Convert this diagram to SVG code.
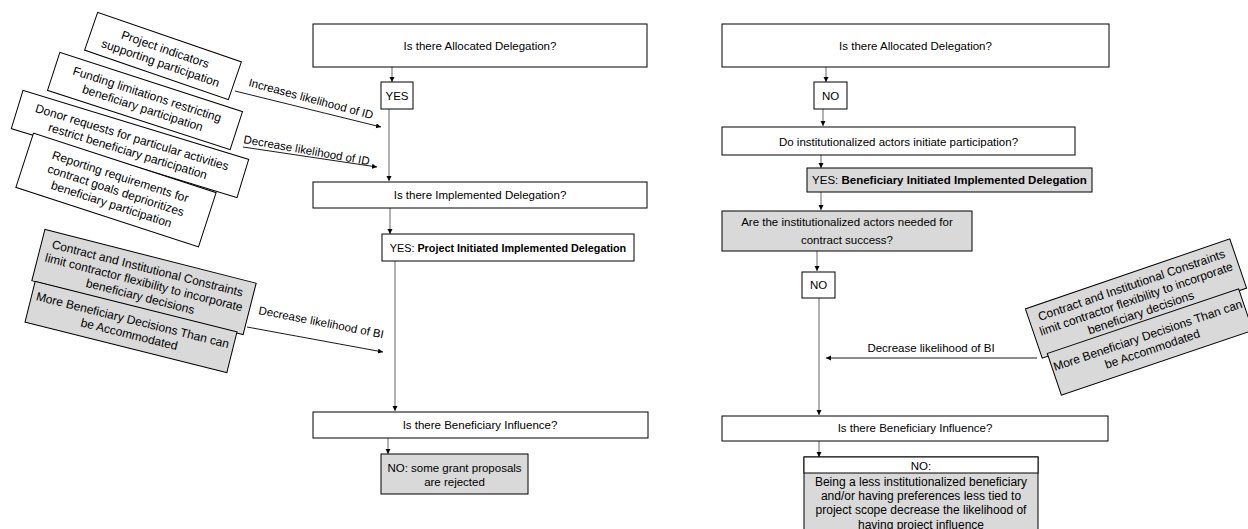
<svg xmlns="http://www.w3.org/2000/svg" width="1248" height="529" viewBox="0 0 1248 529">
<defs>
<style>
text{font-family:"Liberation Sans",Arial,sans-serif;fill:#000;}
.t{font-size:11.5px;text-anchor:middle;}
.r{font-size:12px;text-anchor:middle;}
.lbl{font-size:11.5px;}
.box{fill:#fff;stroke:#000;stroke-width:1;}
.gray{fill:#d9d9d9;stroke:#000;stroke-width:1;}
.c{fill:none;stroke:#7f7f7f;stroke-width:1.2;marker-end:url(#ah);}
.cd{fill:none;stroke:#000;stroke-width:0.9;marker-end:url(#ah);}
</style>
<marker id="ah" markerUnits="userSpaceOnUse" markerWidth="6" markerHeight="6" refX="5" refY="2.5" orient="auto">
<path d="M0,0 L5,2.5 L0,5 z" fill="#000"/>
</marker>
</defs>
<rect width="1248" height="529" fill="#fff"/>

<g id="connectors">
<path class="c" d="M392,67 V82"/>
<path class="c" d="M389,109 V181"/>
<path class="c" d="M390,208 V234"/>
<path class="c" d="M395,261 V411"/>
<path class="c" d="M388,438 V454"/>
<path class="cd" d="M235,91 L381,127"/>
<path class="cd" d="M243,147 L377,167"/>
<path class="cd" d="M247,327 L383,352"/>
<path class="c" d="M826,67 V82"/>
<path class="c" d="M823,109 V126"/>
<path class="c" d="M821,155 V168"/>
<path class="c" d="M821,192 V210"/>
<path class="c" d="M817,251 V271"/>
<path class="c" d="M819,298 V415"/>
<path class="c" d="M819,441 V457"/>
<path class="cd" d="M1037,358 L826,358"/>
<text class="lbl" transform="translate(248,86) rotate(15)">Increases likelihood of ID</text>
<text class="lbl" transform="translate(243,143) rotate(10)">Decrease likelihood of ID</text>
<text class="lbl" transform="translate(258,314) rotate(11)">Decrease likelihood of BI</text>
<text class="t" x="931" y="352">Decrease likelihood of BI</text>
</g>

<g id="f1" transform="translate(163,56) rotate(19)">
<rect class="box" x="-76" y="-20" width="152" height="40"/>
<text class="r" y="-3">Project indicators</text>
<text class="r" y="11.5">supporting participation</text>
</g>
<g id="f2" transform="translate(145,101) rotate(18)">
<rect class="box" x="-96" y="-20" width="192" height="40"/>
<text class="r" y="-3">Funding limitations restricting</text>
<text class="r" y="11.5">beneficiary participation</text>
</g>
<g id="f3" transform="translate(130,144) rotate(17)">
<rect class="box" x="-118" y="-20" width="236" height="40"/>
<text class="r" y="-3">Donor requests for particular activities</text>
<text class="r" y="11.5">restrict beneficiary participation</text>
</g>
<g id="f4" transform="translate(116,190) rotate(18)">
<rect class="box" x="-96" y="-28.5" width="192" height="57"/>
<text class="r" y="-10">Reporting requirements for</text>
<text class="r" y="4.5">contract goals deprioritizes</text>
<text class="r" y="19">beneficiary participation</text>
</g>
<g id="g1" transform="translate(144,282) rotate(14.3)">
<rect class="gray" x="-109" y="-26.5" width="218" height="53"/>
<text class="r" y="-10">Contract and Institutional Constraints</text>
<text class="r" y="4.5">limit contractor flexibility to incorporate</text>
<text class="r" y="19">beneficiary decisions</text>
</g>
<g id="g2" transform="translate(131,327) rotate(14)">
<rect class="gray" x="-104" y="-21" width="208" height="42"/>
<text class="r" y="-3">More Beneficiary Decisions Than can</text>
<text class="r" y="11.5">be Accommodated</text>
</g>

<g id="a1"><rect class="box" x="313" y="24" width="334" height="43"/><text class="t" x="480" y="50">Is there Allocated Delegation?</text></g>
<g id="yes1"><rect class="box" x="381" y="82" width="32" height="27"/><text class="t" x="397" y="99.5">YES</text></g>
<g id="b1"><rect class="box" x="313" y="182" width="334" height="26"/><text class="t" x="480" y="199">Is there Implemented Delegation?</text></g>
<g id="c1"><rect class="box" x="382" y="234" width="252" height="27"/><text class="t" x="508" y="252" style="font-size:10.8px">YES: <tspan font-weight="bold">Project Initiated Implemented Delegation</tspan></text></g>
<g id="d1"><rect class="box" x="313" y="412" width="335" height="26"/><text class="t" x="480" y="429">Is there Beneficiary Influence?</text></g>
<g id="e1"><rect class="gray" x="381" y="454" width="147" height="40"/><text class="t" x="454.5" y="472">NO: some grant proposals</text><text class="t" x="454.5" y="486">are rejected</text></g>

<g id="a2"><rect class="box" x="722" y="24" width="387" height="43"/><text class="t" x="915.5" y="50">Is there Allocated Delegation?</text></g>
<g id="no1"><rect class="box" x="814" y="82" width="33" height="27"/><text class="t" x="830.5" y="99.5">NO</text></g>
<g id="b2"><rect class="box" x="722" y="127" width="353" height="28"/><text class="t" x="898.5" y="145.5">Do institutionalized actors initiate participation?</text></g>
<g id="c2"><rect class="gray" x="807" y="168" width="285" height="24"/><text class="t" x="949.5" y="184">YES: <tspan font-weight="bold">Beneficiary Initiated Implemented Delegation</tspan></text></g>
<g id="d2"><rect class="gray" x="722" y="211" width="250" height="40"/><text class="t" x="847" y="226">Are the institutionalized actors needed for</text><text class="t" x="847" y="243.5">contract success?</text></g>
<g id="no2"><rect class="box" x="802" y="272" width="33" height="26"/><text class="t" x="818.5" y="289">NO</text></g>
<g id="e2"><rect class="box" x="722" y="416" width="386" height="25"/><text class="t" x="915" y="432">Is there Beneficiary Influence?</text></g>
<g id="f5">
<rect class="gray" x="804" y="457" width="234" height="80"/>
<rect class="box" x="804" y="457" width="234" height="16"/>
<text class="t" x="921" y="469.5">NO:</text>
<text class="r" x="921" y="486">Being a less institutionalized beneficiary</text>
<text class="r" x="921" y="500">and/or having preferences less tied to</text>
<text class="r" x="921" y="514">project scope decrease the likelihood of</text>
<text class="r" x="921" y="528.5">having project influence</text>
</g>

<g id="g3" transform="translate(1136,298.5) rotate(-18.9)">
<rect class="gray" x="-108" y="-26" width="216" height="52"/>
<text class="r" y="-10">Contract and Institutional Constraints</text>
<text class="r" y="4.5">limit contractor flexibility to incorporate</text>
<text class="r" y="19">beneficiary decisions</text>
</g>
<g id="g4" transform="translate(1150,342) rotate(-18.7)">
<rect class="gray" x="-101" y="-22" width="202" height="44"/>
<text class="r" y="-3">More Beneficiary Decisions Than can</text>
<text class="r" y="11.5">be Accommodated</text>
</g>
</svg>
